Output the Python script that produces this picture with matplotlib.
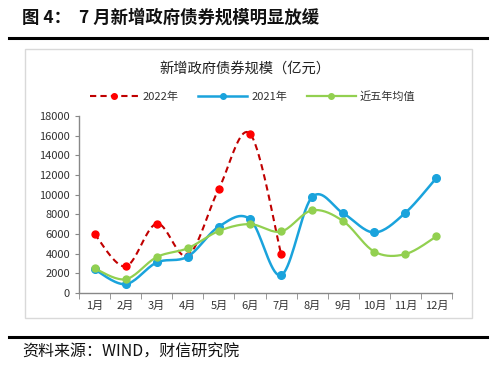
import numpy as np
import matplotlib.pyplot as plt
from matplotlib.lines import Line2D
from matplotlib.patches import Rectangle

plt.rcParams['font.family'] = ['Noto Sans CJK SC', 'DejaVu Sans']

months = ['1月', '2月', '3月', '4月', '5月', '6月', '7月', '8月', '9月', '10月', '11月', '12月']
y2022 = [6000, 2700, 7050, 3800, 10600, 16200, 4000]
y2021 = [2400, 900, 3100, 3700, 6750, 7500, 1800, 9750, 8100, 6150, 8150, 11700]
avg5 = [2500, 1400, 3650, 4550, 6300, 7000, 6250, 8400, 7300, 4200, 3950, 5750]

red = '#FF0000'
red_line = '#C00000'
blue = '#1AA3DC'
green = '#92D050'


def smooth(y, n=20):
    # Excel-like smoothed line: cubic bezier through the points
    y = np.asarray(y, dtype=float)
    x = np.arange(len(y), dtype=float)
    xs, ys = [], []
    t = np.linspace(0, 1, n)
    for i in range(len(y) - 1):
        x0, x3 = x[i], x[i + 1]
        y0, y3 = y[i], y[i + 1]
        xp = x[i - 1] if i > 0 else x0
        yp = y[i - 1] if i > 0 else y0
        xn = x[i + 2] if i + 2 < len(y) else x3
        yn = y[i + 2] if i + 2 < len(y) else y3
        x1 = x0 + (x3 - xp) / 6
        y1 = y0 + (y3 - yp) / 6
        x2 = x3 - (xn - x0) / 6
        y2 = y3 - (yn - y0) / 6
        bx = (1 - t) ** 3 * x0 + 3 * (1 - t) ** 2 * t * x1 + 3 * (1 - t) * t ** 2 * x2 + t ** 3 * x3
        by = (1 - t) ** 3 * y0 + 3 * (1 - t) ** 2 * t * y1 + 3 * (1 - t) * t ** 2 * y2 + t ** 3 * y3
        xs.extend(bx)
        ys.extend(by)
    return xs, ys


fig = plt.figure(figsize=(5, 3.69), dpi=100)

# header / footer
fig.text(0.044, 0.951, '图 4：  7 月新增政府债券规模明显放缓', fontsize=12.5, fontweight='bold',
         ha='left', va='center', color='#111111')
fig.add_artist(Line2D([0.018, 0.974], [0.897, 0.897], color='black', lw=2.2))
fig.add_artist(Line2D([0.018, 0.974], [0.087, 0.087], color='black', lw=2.2))
fig.text(0.044, 0.045, '资料来源：WIND，财信研究院', fontsize=11.5, style='italic',
         ha='left', va='center', color='#111111')

# chart frame
fig.add_artist(Rectangle((0.05, 0.138), 0.894, 0.73, transform=fig.transFigure,
                         fill=False, edgecolor='#D9D9D9', lw=1))
fig.text(0.49, 0.813, '新增政府债券规模（亿元）', fontsize=10.3, ha='center', va='center', color='#222222')

ax = fig.add_axes([0.158, 0.206, 0.746, 0.48])

x = np.arange(len(months))

xs, ys = smooth(y2022)
ax.plot(xs, ys, color=red_line, lw=1.5, dashes=(3, 2), zorder=2)
ax.plot(x[:len(y2022)], y2022, 'o', color=red, ms=5, zorder=2)

xs, ys = smooth(y2021)
ax.plot(xs, ys, color=blue, lw=1.8, zorder=3)
ax.plot(x, y2021, 'o', color=blue, ms=5.5, zorder=3)

xs, ys = smooth(avg5)
ax.plot(xs, ys, color=green, lw=1.6, zorder=4)
ax.plot(x, avg5, 'o', color=green, ms=5, zorder=4)

ax.set_xlim(-0.5, 11.5)
ax.set_ylim(0, 18000)
ax.set_yticks(range(0, 18001, 2000))
ax.set_xticks(x)
ax.set_xticklabels(months)
ax.set_xticks(np.arange(-0.5, 12, 1), minor=True)
ax.tick_params(axis='x', which='major', length=0, labelsize=8, pad=6, colors='#333333')
ax.tick_params(axis='x', which='minor', length=4, direction='out', color='#888888')
ax.tick_params(axis='y', length=3, direction='out', labelsize=8, color='#888888', labelcolor='#333333')
for s in ['top', 'right']:
    ax.spines[s].set_visible(False)
for s in ['left', 'bottom']:
    ax.spines[s].set_color('#888888')
    ax.spines[s].set_linewidth(1)

handles = [
    Line2D([], [], color=red_line, lw=1.5, dashes=(3, 2), marker='o', mfc=red, mec=red, ms=4),
    Line2D([], [], color=blue, lw=1.8, marker='o', ms=4),
    Line2D([], [], color=green, lw=1.6, marker='o', ms=4),
]
fig.legend(handles, ['2022年', '2021年', '近五年均值'], loc='center', bbox_to_anchor=(0.505, 0.737),
           ncol=3, frameon=False, fontsize=8, handlelength=4.4, columnspacing=1.8, handletextpad=0.35,
           labelcolor='#333333')

fig.savefig('out.png', dpi=100)
